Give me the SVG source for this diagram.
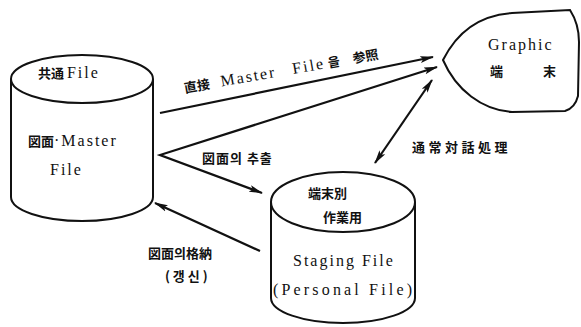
<svg xmlns="http://www.w3.org/2000/svg" width="581" height="327" viewBox="0 0 581 327">
  <style>
    .shape { fill: none; stroke: #111; stroke-width: 2; }
    .link { fill: none; stroke: #111; stroke-width: 2.2; }
    .lat { font-family: "Liberation Serif", "Noto Sans CJK JP", serif; font-size: 16px; font-weight: normal; fill: #111; letter-spacing: 2px; }
    .cjk { font-family: "Noto Sans CJK JP", "Noto Sans CJK KR", sans-serif; font-size: 13px; font-weight: bold; fill: #111; }
  </style>
  <defs>
    <marker id="head" viewBox="0 0 14 8" markerWidth="14" markerHeight="8" refX="13" refY="4" orient="auto-start-reverse" markerUnits="userSpaceOnUse">
      <path d="M0,0.5 L14,4 L0,7.5 L3,4 Z" fill="#111"/>
    </marker>
  </defs>
  <rect width="581" height="327" fill="#fff"/>

  <!-- shared master file cylinder -->
  <g id="master-file">
    <ellipse class="shape" cx="82" cy="79" rx="71" ry="24"/>
    <path class="shape" d="M11,79 L11,197 A71,24 0 0 0 153,197 L153,79"/>
    <text class="cjk" x="38" y="78">共通 <tspan class="lat">File</tspan></text>
    <text class="cjk" x="28" y="146">図面<tspan class="lat">·Master</tspan></text>
    <text class="lat" x="50" y="175">File</text>
  </g>

  <!-- graphic terminal -->
  <g id="graphic-terminal">
    <path class="shape" d="M443,60 C458,30 482,15 512,13 L570,10 Q579,24 579,42 L578,96 Q575,108 565,111 L512,112 C482,110 456,90 443,60 Z"/>
    <text class="lat" x="488" y="50">Graphic</text>
    <text class="cjk" x="490" y="76" font-size="14">端</text>
    <text class="cjk" x="543" y="76" font-size="14">末</text>
  </g>

  <!-- per-terminal staging file cylinder -->
  <g id="staging-file">
    <ellipse class="shape" cx="343" cy="202" rx="72" ry="30"/>
    <path class="shape" d="M271,202 L271,298 A72,25 0 0 0 415,298 L415,202"/>
    <text class="cjk" x="308" y="198">端末別</text>
    <text class="cjk" x="323" y="222">作業用</text>
    <text class="lat" x="293" y="266">Staging  File</text>
    <text class="lat" x="273" y="295" textLength="141" lengthAdjust="spacing">(Personal File)</text>
  </g>

  <!-- connectors -->
  <g id="connectors">
    <path class="link" stroke-width="2.8" d="M160,113 L433,57" marker-end="url(#head)"/>
    <path class="link" d="M437,67 L160,155 L262,193" marker-start="url(#head)" marker-end="url(#head)"/>
    <path class="link" d="M260,251 L155,203" marker-end="url(#head)"/>
    <path class="link" stroke-width="1.8" d="M432,80 L375,163" marker-start="url(#head)" marker-end="url(#head)"/>
  </g>

  <!-- connector labels -->
  <g id="labels">
    <text class="cjk" transform="translate(185,93) rotate(-10)"><tspan x="0">直接</tspan><tspan class="lat" x="37" font-size="15" letter-spacing="3.5">Master</tspan><tspan class="lat" x="110" font-size="15" letter-spacing="1">File</tspan><tspan x="146">을</tspan><tspan x="171">参照</tspan></text>
    <text class="cjk" x="202" y="163" font-size="14" letter-spacing="1">図面의 추출</text>
    <text class="cjk" x="412" y="152" font-size="14" letter-spacing="3.5">通常対話処理</text>
    <text class="cjk" x="148" y="258">図面의格納</text>
    <text class="cjk" x="165" y="281">( 갱 신 )</text>
  </g>
</svg>
